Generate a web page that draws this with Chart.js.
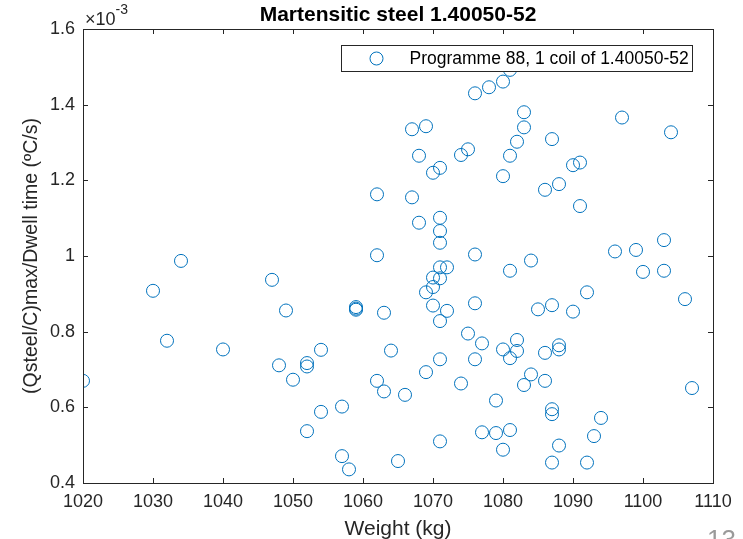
<!DOCTYPE html>
<html>

<head>
    <title>Martensitic steel 1.40050-52</title>
    <script src="https://cdn.jsdelivr.net/npm/chart.js@4/dist/chart.umd.min.js"></script>
    <style>
        body { margin: 0; background: #fff; }
    </style>
</head>

<body>
    <canvas id="myChart" width="743" height="539"></canvas>
</body>
<script>
    // coil weight (kg)
    const weights = [
        1020, 1030, 1032, 1034, 1040, 1047, 1048, 1049, 1050, 1052,
        1052, 1052, 1054, 1054, 1057, 1057, 1058, 1059, 1059, 1059,
        1062, 1062, 1062, 1063, 1063, 1064, 1065, 1066, 1067, 1067,
        1068, 1068, 1069, 1069, 1069, 1070, 1070, 1070, 1070, 1071,
        1071, 1071, 1071, 1071, 1071, 1071, 1071, 1071, 1072, 1072,
        1074, 1074, 1075, 1075, 1076, 1076, 1076, 1076, 1077, 1077,
        1078, 1079, 1079, 1080, 1080, 1080, 1080, 1081, 1081, 1081,
        1081, 1081, 1082, 1082, 1082, 1083, 1083, 1083, 1084, 1084,
        1085, 1086, 1086, 1086, 1087, 1087, 1087, 1087, 1087, 1088,
        1088, 1088, 1088, 1090, 1090, 1091, 1091, 1092, 1092, 1093,
        1094, 1096, 1097, 1099, 1100, 1103, 1103, 1104, 1106, 1107
    ];
    // (Qsteel/C)max / dwell time, in units of 1e-3 ºC/s
    const rates = [
        0.670, 0.908, 0.776, 0.987, 0.753, 0.937, 0.711, 0.856, 0.673, 0.717,
        0.708, 0.537, 0.752, 0.588, 0.602, 0.471, 0.436, 0.865, 0.861, 0.858,
        1.163, 1.002, 0.670, 0.850, 0.642, 0.750, 0.458, 0.633, 1.335, 1.155,
        1.265, 1.088, 1.343, 0.904, 0.693, 1.220, 0.943, 0.918, 0.869, 1.233,
        1.101, 1.066, 1.035, 0.970, 0.941, 0.828, 0.727, 0.510, 0.970, 0.855,
        1.267, 0.663, 1.282, 0.795, 1.430, 1.004, 0.875, 0.727, 0.769, 0.534,
        1.446, 0.618, 0.532, 1.461, 1.211, 0.753, 0.488, 1.492, 1.265, 0.961,
        0.730, 0.540, 1.302, 0.778, 0.749, 1.380, 1.340, 0.659, 0.988, 0.687,
        0.859, 1.175, 0.744, 0.670, 1.309, 0.870, 0.595, 0.582, 0.454, 1.190,
        0.764, 0.753, 0.499, 1.240, 0.853, 1.247, 1.132, 0.904, 0.454, 0.524,
        0.572, 1.012, 1.366, 1.016, 0.958, 1.042, 0.961, 1.327, 0.886, 0.651
    ];
    const xTicks = [1020, 1030, 1040, 1050, 1060, 1070, 1080, 1090, 1100, 1110];
    const yTicks = [0.4, 0.6, 0.8, 1.0, 1.2, 1.4, 1.6];

    const seriesName = 'Programme 88, 1 coil of 1.40050-52';
    const titleText = 'Martensitic steel 1.40050-52';

    const FONT = "'Liberation Sans', Arial, Helvetica, sans-serif";
    const INK = '#262626';
    const BLUE = '#0072BD';

    // matlab style frame: box all round, ticks pointing inwards, title, exponent, legend
    const matlabFrame = {
        id: 'matlabFrame',
        afterDatasetsDraw(chart) {
            const ctx = chart.ctx;
            const a = chart.chartArea;
            const xs = chart.scales.x, ys = chart.scales.y;
            const tl = 5;
            ctx.save();
            ctx.strokeStyle = INK;
            ctx.lineWidth = 1;
            ctx.beginPath();
            xTicks.forEach(v => {
                const px = Math.round(xs.getPixelForValue(v)) + 0.5;
                ctx.moveTo(px, a.bottom); ctx.lineTo(px, a.bottom - tl);
                ctx.moveTo(px, a.top); ctx.lineTo(px, a.top + tl);
            });
            yTicks.forEach(v => {
                const py = Math.round(ys.getPixelForValue(v)) + 0.5;
                ctx.moveTo(a.left, py); ctx.lineTo(a.left + tl, py);
                ctx.moveTo(a.right, py); ctx.lineTo(a.right - tl, py);
            });
            ctx.stroke();
            ctx.strokeRect(Math.round(a.left) + 0.5, Math.round(a.top) + 0.5,
                Math.round(a.right - a.left), Math.round(a.bottom - a.top));

            // legend box
            const lw = 351, lh = 26;
            const lx = Math.round(a.right) - 21 - lw + 0.5;
            const ly = Math.round(a.top) + 16 + 0.5;
            ctx.fillStyle = '#fff';
            ctx.fillRect(lx, ly, lw, lh);
            ctx.strokeRect(lx, ly, lw, lh);
            ctx.strokeStyle = BLUE;
            ctx.beginPath();
            ctx.arc(lx + 35, ly + lh / 2, 6.5, 0, Math.PI * 2);
            ctx.stroke();
            ctx.fillStyle = '#000';
            ctx.font = '17.5px ' + FONT;
            ctx.textAlign = 'left';
            ctx.textBaseline = 'middle';
            ctx.fillText(seriesName, lx + 68, ly + lh / 2 + 1);

            // title
            ctx.font = 'bold 21px ' + FONT;
            ctx.textAlign = 'center';
            ctx.textBaseline = 'alphabetic';
            ctx.fillText(titleText, (a.left + a.right) / 2, a.top - 8);

            // exponent
            ctx.fillStyle = INK;
            ctx.textAlign = 'left';
            ctx.font = '18px ' + FONT;
            ctx.fillText('\u00d710', a.left + 2, a.top - 4);
            const w = ctx.measureText('\u00d710').width;
            ctx.font = '14px ' + FONT;
            ctx.fillText('-3', a.left + 2 + w, a.top - 15.5);

            // slide page number, cut by the bottom edge
            ctx.fillStyle = '#9a9a9a';
            ctx.font = '26px ' + FONT;
            ctx.textBaseline = 'top';
            ctx.fillText('13', a.right - 6, 528);
            ctx.restore();
        }
    };

    const points = weights.map((w, i) => ({ x: w, y: rates[i] }));

    const config = {
        type: 'scatter',
        data: {
            datasets: [{
                label: seriesName,
                data: points,
                pointStyle: 'circle',
                pointRadius: 6.5,
                pointHoverRadius: 6.5,
                borderWidth: 1,
                borderColor: BLUE,
                backgroundColor: 'rgba(0,0,0,0)'
            }]
        },
        options: {
            responsive: false,
            animation: false,
            events: [],
            layout: { padding: { top: 29, right: 30, left: 0, bottom: 0 } },
            plugins: {
                legend: { display: false },
                tooltip: { enabled: false },
                title: { display: false }
            },
            scales: {
                x: {
                    type: 'linear',
                    min: 1020,
                    max: 1110,
                    afterBuildTicks: s => { s.ticks = xTicks.map(v => ({ value: v })); },
                    afterFit: s => { s.height = 56; },
                    grid: { display: false, drawTicks: false },
                    border: { display: false },
                    ticks: {
                        color: INK,
                        font: { family: FONT, size: 18 },
                        padding: 8,
                        maxRotation: 0,
                        autoSkip: false,
                        callback: v => String(v)
                    },
                    title: {
                        display: true,
                        text: 'Weight (kg)',
                        color: INK,
                        font: { family: FONT, size: 21 },
                        padding: { top: 0, bottom: -3 }
                    }
                },
                y: {
                    type: 'linear',
                    min: 0.4,
                    max: 1.6,
                    afterBuildTicks: s => { s.ticks = yTicks.map(v => ({ value: v })); },
                    afterFit: s => { s.width = 83; },
                    grid: { display: false, drawTicks: false },
                    border: { display: false },
                    ticks: {
                        color: INK,
                        font: { family: FONT, size: 18 },
                        padding: 8,
                        callback: v => String(Number(v.toFixed(1)))
                    },
                    title: {
                        display: true,
                        text: '(Qsteel/C)max/Dwell time (\u00baC/s)',
                        color: INK,
                        font: { family: FONT, size: 19.5 },
                        padding: { top: 20, bottom: 0 }
                    }
                }
            }
        },
        plugins: [matlabFrame]
    };

    const myChart = new Chart(document.getElementById('myChart'), config);
</script>

</html>
